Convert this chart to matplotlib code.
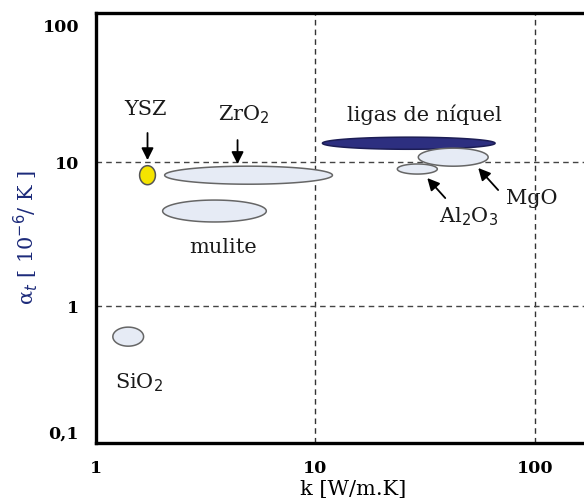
import numpy as np
import matplotlib
matplotlib.use('Agg')
import matplotlib.pyplot as plt

# material regions: k [W/m.K] and alpha [1e-6/K] centres, half-widths in decades
materials = ['YSZ', 'ZrO2', 'mulite', 'SiO2', 'ligas', 'MgO', 'Al2O3']
k_centre = [1.72, 4.96, 3.47, 1.405, 26.6, 42.4, 29.1]
a_centre = [8.1, 8.1, 4.57, 0.614, 13.5, 10.8, 8.94]
k_half_dec = [0.036, 0.382, 0.236, 0.070, 0.393, 0.159, 0.091]
a_half_dec = [0.066, 0.0625, 0.076, 0.066, 0.042, 0.0625, 0.035]
fills = ['#f5e400', '#e6ebf5', '#e6ebf5', '#e6ebf5', '#2d2f80', '#e6ebf5', '#e6ebf5']
edges = ['#555555', '#666666', '#666666', '#666666', '#1c1d55', '#666666', '#666666']

# labels
lab_text = ['YSZ', 'ZrO$_2$', 'mulite', 'SiO$_2$', 'ligas de níquel', 'MgO', 'Al$_2$O$_3$']
lab_k = [1.69, 4.71, 3.78, 1.57, 31.3, 96.9, 49.6]
lab_a = [23.0, 21.2, 2.57, 0.292, 21.2, 5.62, 4.15]

# arrows: (tail k, tail a, head k, head a)
arrows = [
    (1.72, 15.9, 1.72, 10.3),
    (4.42, 14.2, 4.42, 9.68),
    (39.0, 5.62, 32.3, 7.74),
    (67.9, 6.39, 55.1, 9.09),
]

xtick_vals = [1, 10, 100]
xtick_labels = ['1', '10', '100']
ytick_vals = [0.133, 1, 10, 88]
ytick_labels = ['0,1', '1', '10', '100']

serif = 'DejaVu Serif'

fig = plt.figure(figsize=(5.84, 5.03), dpi=100)
ax = fig.add_axes([0.164, 0.119, 0.836, 0.855])
ax.set_xscale('log')
ax.set_yscale('log')
ax.set_xlim(1, 167)
ax.set_ylim(0.112, 108)

# dashed grid lines at decades
for xv in [10, 100]:
    ax.axvline(xv, color='#333333', lw=1.0, ls=(0, (4, 3)), zorder=1)
for yv in [1, 10]:
    ax.axhline(yv, color='#444444', lw=1.0, ls=(0, (4, 3)), zorder=1)

t = np.linspace(0, 2 * np.pi, 200)
for i in range(len(materials)):
    xs = 10 ** (np.log10(k_centre[i]) + k_half_dec[i] * np.cos(t))
    ys = 10 ** (np.log10(a_centre[i]) + a_half_dec[i] * np.sin(t))
    ax.fill(xs, ys, facecolor=fills[i], edgecolor=edges[i], lw=1.1, zorder=3)

for txt, kx, ay in zip(lab_text, lab_k, lab_a):
    ax.text(kx, ay, txt, family=serif, fontsize=15, color='#1a1a1a',
            ha='center', va='center', zorder=4)

for tk, ta, hk, ha_ in arrows:
    ax.annotate('', xy=(hk, ha_), xytext=(tk, ta),
                arrowprops=dict(arrowstyle='-|>', color='black', lw=1.3,
                                mutation_scale=18, shrinkA=0, shrinkB=0),
                zorder=5)

ax.spines['right'].set_visible(False)
for s in ['left', 'bottom', 'top']:
    ax.spines[s].set_linewidth(2.4)
    ax.spines[s].set_color('black')

ax.set_xticks(xtick_vals)
ax.set_xticklabels(xtick_labels)
ax.set_yticks(ytick_vals)
ax.set_yticklabels(ytick_labels)
ax.minorticks_off()
ax.tick_params(axis='both', length=0)
ax.tick_params(axis='x', pad=12)
ax.tick_params(axis='y', pad=12)
for lb in ax.get_xticklabels() + ax.get_yticklabels():
    lb.set_family(serif)
    lb.set_fontweight('bold')
    lb.set_fontsize(12.5)

ax.set_xlabel('k [W/m.K]', family=serif, fontsize=15)
ax.xaxis.set_label_coords(0.527, -0.085)
ax.set_ylabel('α$_t$ [ 10$^{-6}$/ K ]', family=serif, fontsize=15,
              color='#1c2a7a')
ax.yaxis.set_label_coords(-0.115, 0.479)

fig.savefig('out.png', dpi=100)
